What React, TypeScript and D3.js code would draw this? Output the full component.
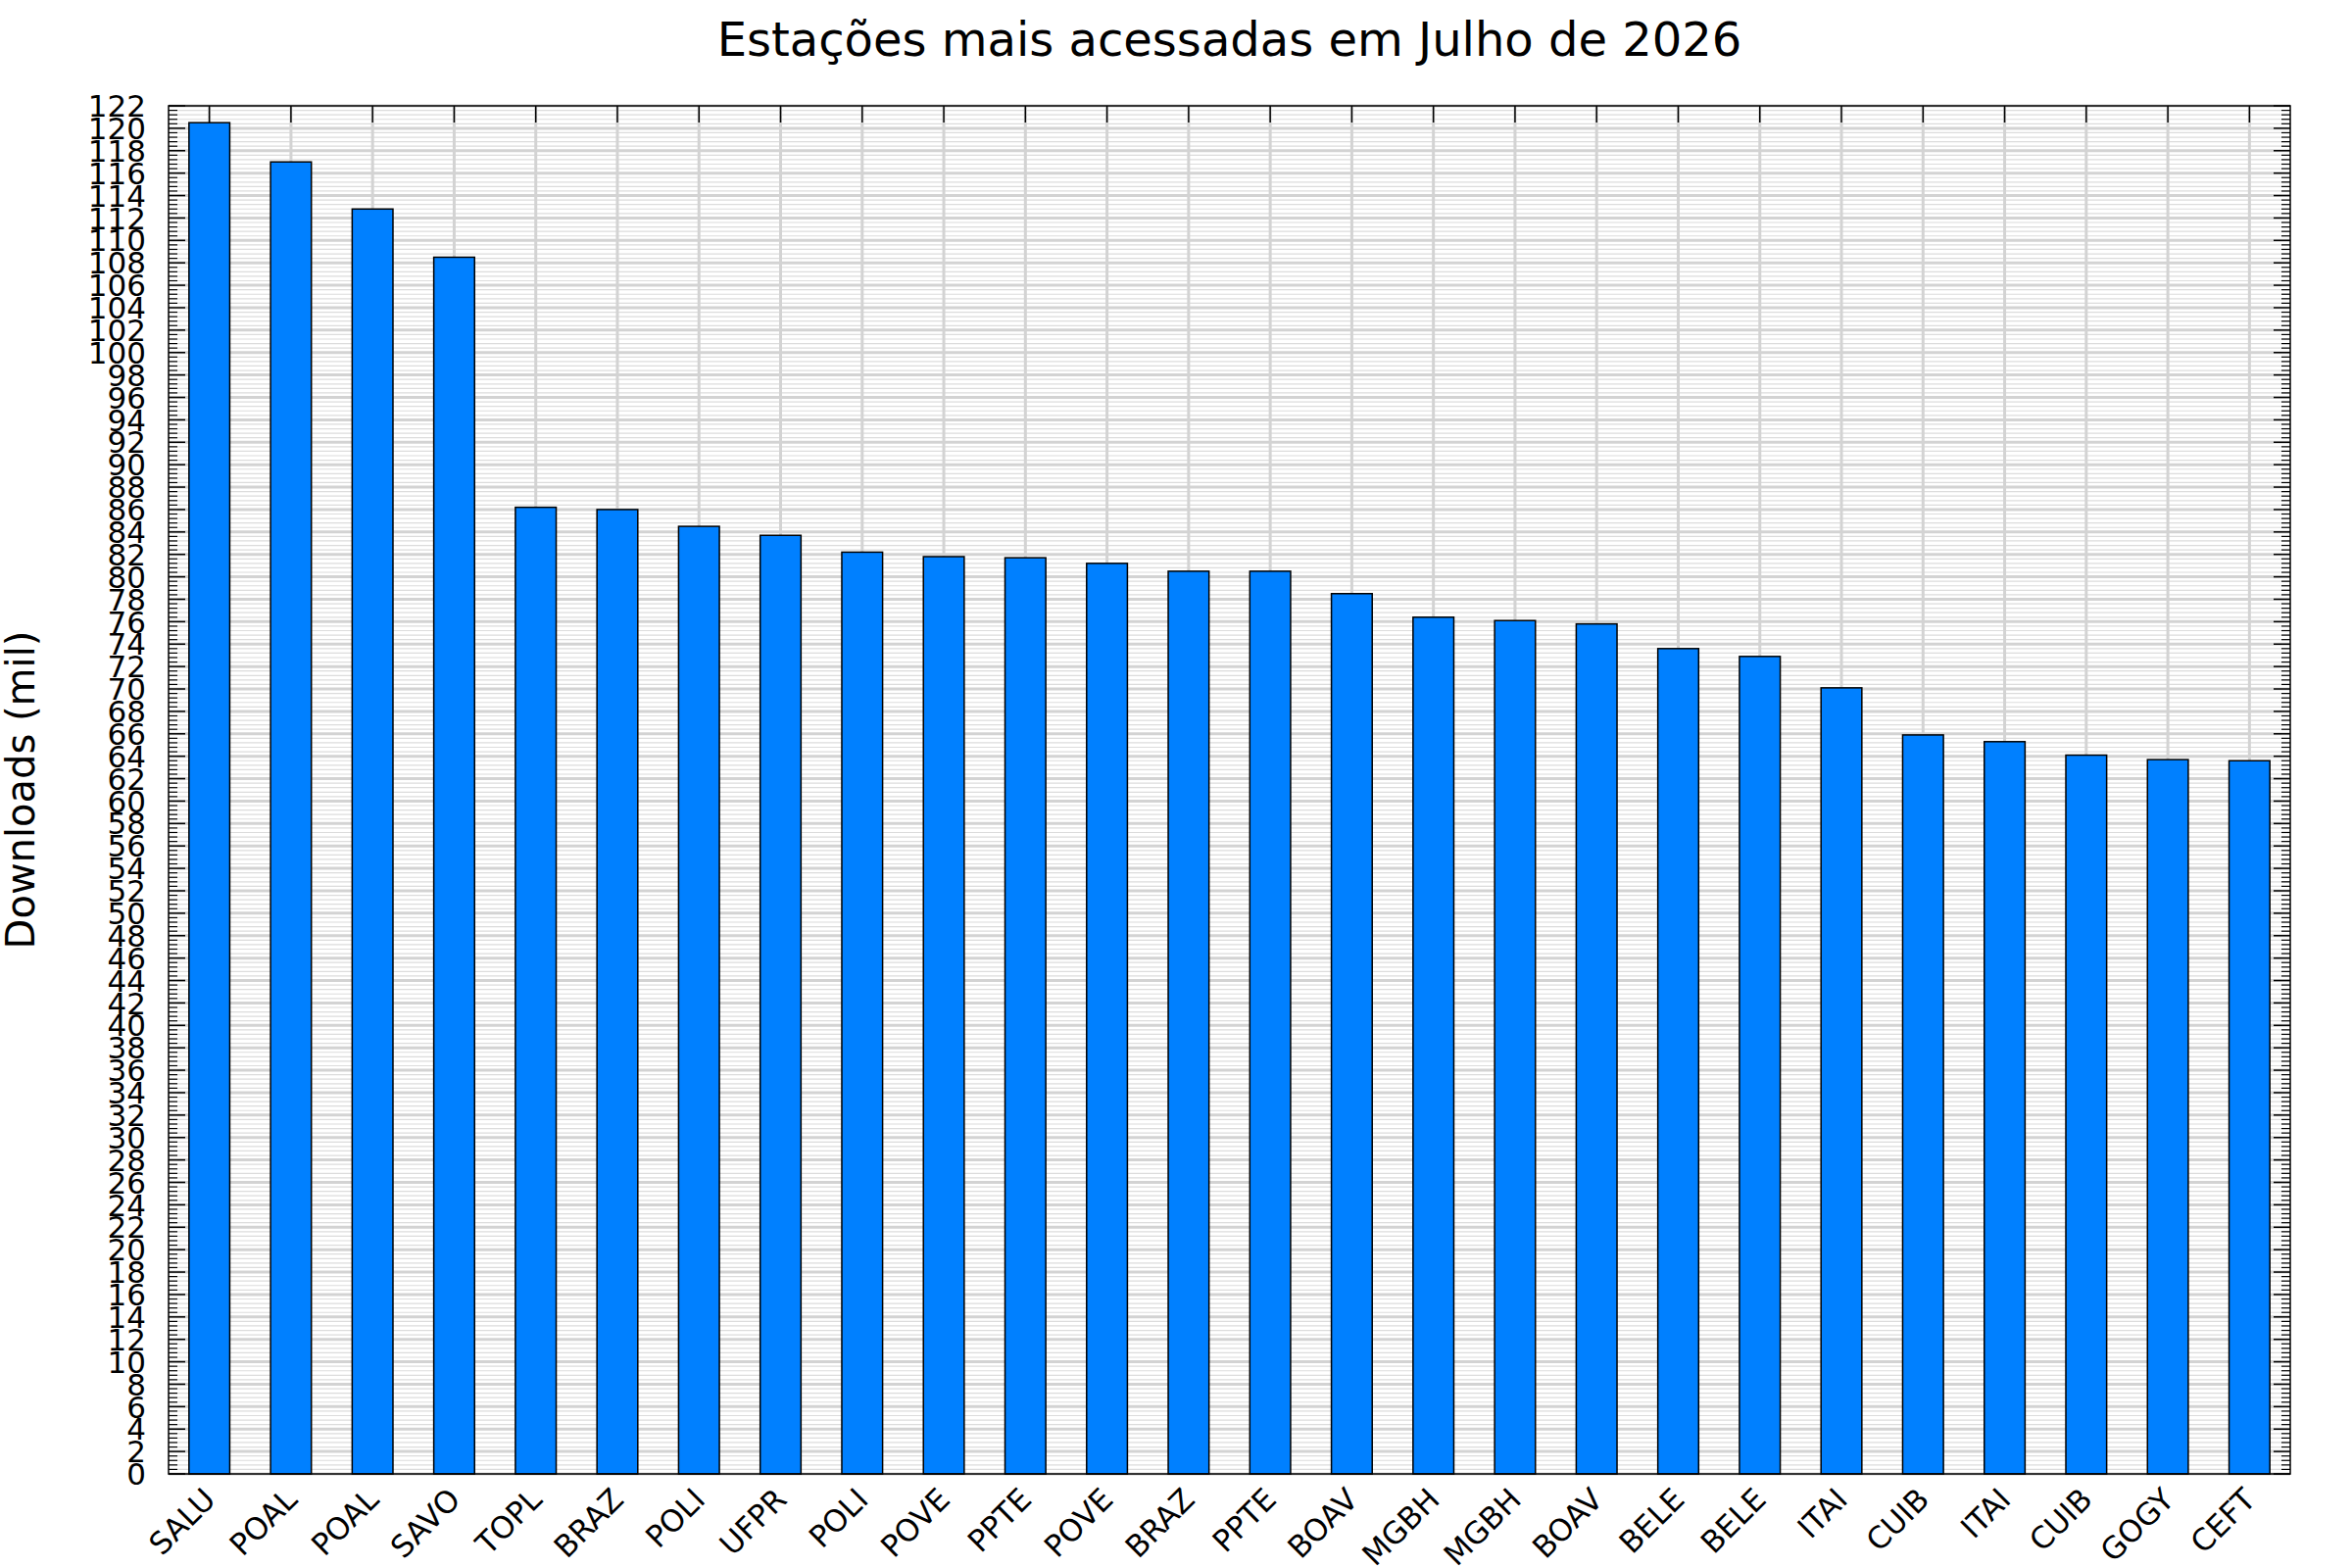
import * as d3 from "d3";

// Station codes, in the order they appear on the chart
const stations = [
  "SALU", "POAL", "POAL", "SAVO", "TOPL", "BRAZ", "POLI", "UFPR", "POLI",
  "POVE", "PPTE", "POVE", "BRAZ", "PPTE", "BOAV", "MGBH", "MGBH", "BOAV",
  "BELE", "BELE", "ITAI", "CUIB", "ITAI", "CUIB", "GOGY", "CEFT",
];

// Downloads in thousands
const downloads = [
  120.5, 117.0, 112.8, 108.5, 86.2, 86.0, 84.5, 83.7, 82.2,
  81.8, 81.7, 81.2, 80.5, 80.5, 78.5, 76.4, 76.1, 75.8,
  73.6, 72.9, 70.1, 65.9, 65.3, 64.1, 63.7, 63.6,
];

const yMax = 122;
const majorStep = 2;
const minorStep = 0.4;

const title = "Estações mais acessadas em Julho de 2026";
const yLabel = "Downloads (mil)";

const W = 2400;
const H = 1600;
const left = 172;
const right = 2337;
const top = 108;
const bottom = 1504;
const font = "'DejaVu Sans', sans-serif";

export default function App() {
  const x = d3.scaleBand<number>()
    .domain(d3.range(stations.length))
    .range([left, right])
    .paddingInner(0.5)
    .paddingOuter(0.25);

  const y = d3.scaleLinear().domain([0, yMax]).range([bottom, top]);

  const majorTicks = d3.range(0, yMax + 0.001, majorStep);
  const minorTicks = d3
    .range(0, Math.round(yMax / minorStep) + 1)
    .map((i) => +(i * minorStep).toFixed(2))
    .filter((v) => Math.abs(v / majorStep - Math.round(v / majorStep)) > 1e-6);

  const cx = (i: number) => (x(i) ?? 0) + x.bandwidth() / 2;

  return (
    <svg
      width={W}
      height={H}
      style={{ position: "absolute", left: 0, top: 0, background: "#fff" }}
      fontFamily={font}
    >
      <rect x={0} y={0} width={W} height={H} fill="#fff" />

      {/* minor grid */}
      {minorTicks.map((t) => (
        <line key={"mg" + t} x1={left} x2={right} y1={y(t)} y2={y(t)}
          stroke="#dcdcdc" strokeWidth={1.2} />
      ))}
      {/* major grid */}
      {majorTicks.map((t) => (
        <line key={"Mg" + t} x1={left} x2={right} y1={y(t)} y2={y(t)}
          stroke="#d3d3d3" strokeWidth={3} />
      ))}
      {stations.map((_, i) => (
        <line key={"vg" + i} x1={cx(i)} x2={cx(i)} y1={top} y2={bottom}
          stroke="#d3d3d3" strokeWidth={3} />
      ))}

      {/* bars */}
      {downloads.map((v, i) => (
        <rect key={"b" + i} x={x(i)} y={y(v)} width={x.bandwidth()}
          height={bottom - y(v)} fill="#0080ff" stroke="#000" strokeWidth={1.5} />
      ))}

      {/* frame */}
      <rect x={left} y={top} width={right - left} height={bottom - top}
        fill="none" stroke="#000" strokeWidth={1.5} />

      {/* ticks */}
      {majorTicks.map((t) => (
        <g key={"Mt" + t}>
          <line x1={left} x2={left + 17} y1={y(t)} y2={y(t)} stroke="#000" strokeWidth={1.5} />
          <line x1={right - 17} x2={right} y1={y(t)} y2={y(t)} stroke="#000" strokeWidth={1.5} />
        </g>
      ))}
      {minorTicks.map((t) => (
        <g key={"mt" + t}>
          <line x1={left} x2={left + 9} y1={y(t)} y2={y(t)} stroke="#000" strokeWidth={1.2} />
          <line x1={right - 9} x2={right} y1={y(t)} y2={y(t)} stroke="#000" strokeWidth={1.2} />
        </g>
      ))}
      {stations.map((_, i) => (
        <line key={"tt" + i} x1={cx(i)} x2={cx(i)} y1={top} y2={top + 17}
          stroke="#000" strokeWidth={1.5} />
      ))}

      {/* y tick labels */}
      {majorTicks.map((t) => (
        <text key={"yl" + t} x={149} y={y(t)} dy="0.36em" textAnchor="end"
          fontSize={31} fill="#000">{t}</text>
      ))}

      {/* x labels */}
      {stations.map((s, i) => (
        <text key={"xl" + i} transform={`translate(${cx(i) + 8},${bottom + 28}) rotate(-45)`}
          textAnchor="end" fontSize={31} fill="#000">{s}</text>
      ))}

      <text x={(left + right) / 2} y={57} textAnchor="middle" fontSize={48} fill="#000">
        {title}
      </text>
      <text transform={`translate(35,${(top + bottom) / 2}) rotate(-90)`} textAnchor="middle"
        fontSize={40} fill="#000">{yLabel}</text>
    </svg>
  );
}
